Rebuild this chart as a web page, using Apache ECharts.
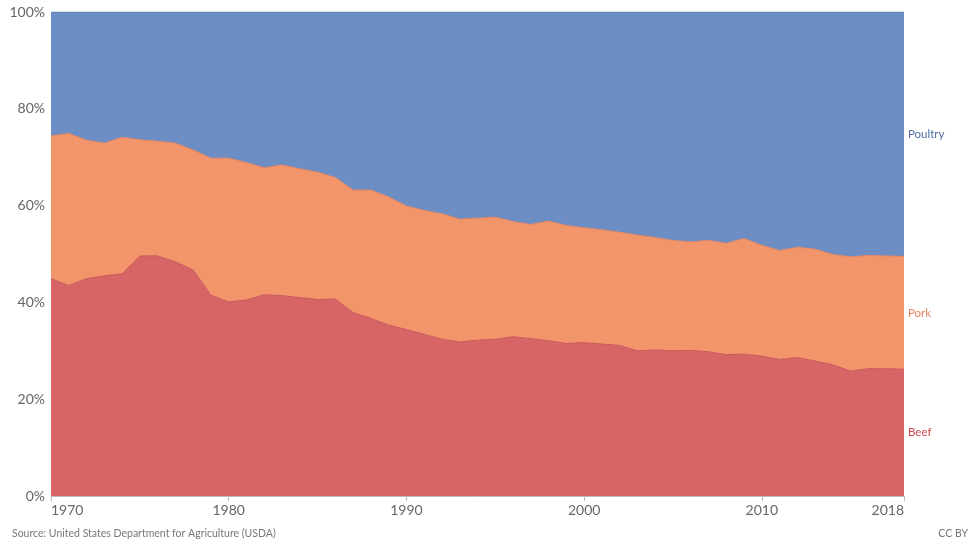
<!DOCTYPE html>
<html>
<head>
<meta charset="utf-8">
<script src="https://cdn.jsdelivr.net/npm/echarts@6/dist/echarts.min.js"></script>
<style>
html,body{margin:0;padding:0;background:#fff;}
#chart{width:975px;height:544px;}
</style>
</head>
<body>
<div id="chart"></div>
<script>
const years = [];
for (let y = 1970; y <= 2018; y++) years.push(String(y));
const xTickLabels = ['1970','1980','1990','2000','2010','2018'];
const beef = [44.9,43.5,44.9,45.5,45.9,49.6,49.6,48.4,46.7,41.5,
  40.1,40.5,41.6,41.4,41.0,40.6,40.7,37.9,36.7,35.3,
  34.4,33.4,32.4,31.8,32.2,32.4,32.9,32.5,32.1,31.5,
  31.7,31.4,31.1,30.0,30.2,30.0,30.1,29.8,29.2,29.3,
  28.9,28.2,28.6,27.9,27.1,25.8,26.3,26.3,26.2];
const pork = [29.5,31.4,28.6,27.4,28.2,24.0,23.7,24.5,24.8,28.3,
  29.7,28.4,26.2,27.0,26.6,26.3,25.1,25.3,26.5,26.5,
  25.5,25.6,25.9,25.4,25.2,25.2,23.8,23.6,24.7,24.4,
  23.7,23.6,23.4,23.9,23.2,22.8,22.4,23.0,23.0,23.9,
  22.9,22.5,22.8,23.1,22.8,23.6,23.4,23.3,23.3];
const poultry = [25.6,25.1,26.5,27.1,25.9,26.4,26.7,27.1,28.5,30.2,
  30.2,31.1,32.2,31.6,32.4,33.1,34.2,36.8,36.8,38.2,
  40.1,41.0,41.7,42.8,42.6,42.4,43.3,43.9,43.2,44.1,
  44.6,45.0,45.5,46.1,46.6,47.2,47.5,47.2,47.8,46.8,
  48.2,49.3,48.6,49.0,50.1,50.6,50.3,50.4,50.5];
const seriesNames = ['Beef','Pork','Poultry'];
const fills = ['#d55d5e','#f18f62','#6588c1'];
const lines = ['#c9555a','#e8845c','#5f80b8'];
const labelColors = ['#cf4a4f','#e8825e','#4e6ea8'];
const sourceText = 'Source: United States Department for Agriculture (USDA)';
const licenseText = 'CC BY';

const chart = echarts.init(document.getElementById('chart'));
const dataSets = [beef, pork, poultry];
const showTick = (i, v) => xTickLabels.indexOf(String(v)) >= 0;

const option = {
  animation: false,
  textStyle: {fontFamily: 'Lato, "Open Sans", sans-serif'},
  grid: {left: 51, right: 71, top: 12, bottom: 48, containLabel: false},
  xAxis: {
    type: 'category',
    data: years,
    boundaryGap: false,
    axisLine: {show: true, lineStyle: {color: '#bbb'}},
    axisTick: {show: true, interval: showTick, length: 5, lineStyle: {color: '#bbb'}},
    axisLabel: {interval: showTick, color: '#666', fontSize: 14, margin: 7,
      alignMinLabel: 'left', alignMaxLabel: 'right', fontFamily: 'Lato'},
    splitLine: {show: false}
  },
  yAxis: {
    type: 'value', min: 0, max: 100, interval: 20,
    axisLine: {show: false}, axisTick: {show: false},
    axisLabel: {formatter: '{value}%', color: '#666', fontSize: 14, margin: 6, fontFamily: 'Lato'},
    splitLine: {show: true, lineStyle: {color: '#9aa', type: [3, 3], width: 1, opacity: 0.35}}
  },
  series: dataSets.map((d, i) => ({
    name: seriesNames[i],
    type: 'line',
    stack: 'total',
    data: d,
    symbol: 'none',
    lineStyle: {width: 1, color: lines[i]},
    areaStyle: {color: fills[i], opacity: 0.95},
    z: 2
  })),
  graphic: [
    {type: 'text', left: 12, top: 528, style: {text: sourceText, fill: '#777', fontSize: 10.5, fontFamily: 'Lato'}},
    {type: 'text', right: 7, top: 528, style: {text: licenseText, fill: '#777', fontSize: 10.5, fontFamily: 'Lato'}}
  ]
};
chart.setOption(option);

// end labels at middle of each band at last year
const last = years.length - 1;
let cum = 0;
const labelGraphics = [];
dataSets.forEach((d, i) => {
  const mid = cum + d[last] / 2;
  cum += d[last];
  const p = chart.convertToPixel({gridIndex: 0}, [years[last], mid]);
  labelGraphics.push({type: 'text', x: p[0] + 4, y: p[1],
    style: {text: seriesNames[i], fill: labelColors[i], fontSize: 11.5, fontFamily: 'Lato', verticalAlign: 'middle', align: 'left'}});
});
chart.setOption({graphic: option.graphic.concat(labelGraphics)});
</script>
</body>
</html>
